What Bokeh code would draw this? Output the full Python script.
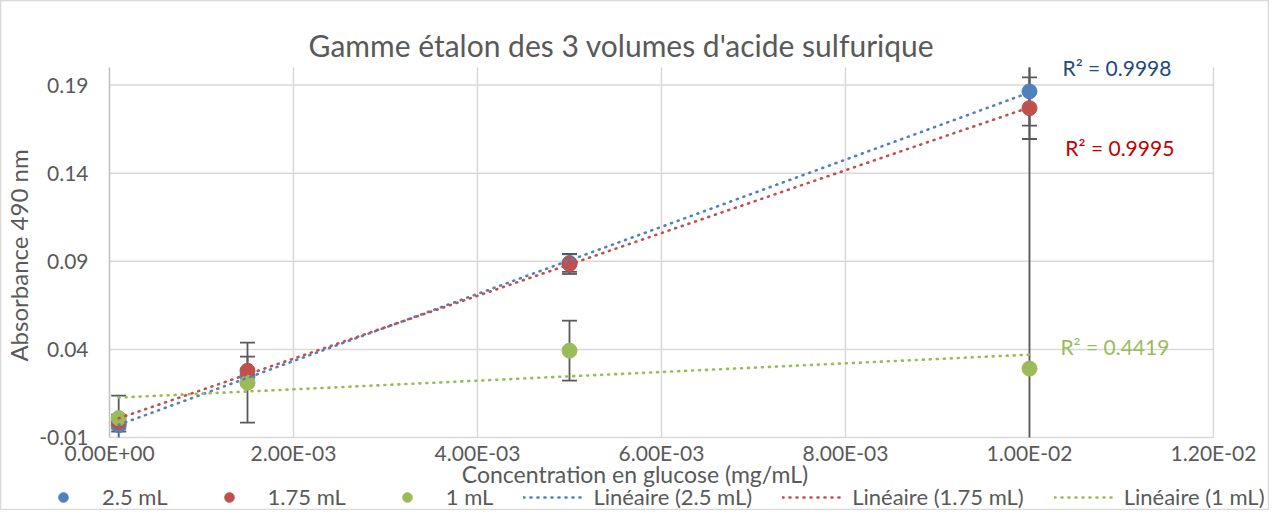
import numpy as np
from bokeh.plotting import figure
from bokeh.models import Legend, LegendItem, Label, FixedTicker, Range1d
from bokeh.embed import file_html
from bokeh.resources import INLINE

# ---------------- data ----------------
concentration = [0.0001, 0.0015, 0.005, 0.01]
abs_25 = [-0.003, 0.025, 0.089, 0.1864]
abs_175 = [-0.001, 0.0279, 0.0885, 0.1769]
abs_1 = [0.001, 0.0211, 0.0393, 0.0291]
err_25 = [0.0036, 0.004, 0.005, 0.0194]
err_175 = [0.004, 0.008, 0.0057, 0.0175]
err_1 = [0.0128, 0.0227, 0.017, 0.176]
series_names = ["2.5 mL", "1.75 mL", "1 mL"]
trend_names = ["Linéaire (2.5 mL)", "Linéaire (1.75 mL)", "Linéaire (1 mL)"]
r2_texts = ["R² = 0.9998", "R² = 0.9995", "R² = 0.4419"]
x_ticks = [0.0, 0.002, 0.004, 0.006, 0.008, 0.01, 0.012]
x_tick_labels = ["0.00E+00", "2.00E-03", "4.00E-03", "6.00E-03", "8.00E-03", "1.00E-02", "1.20E-02"]
y_ticks = [-0.01, 0.04, 0.09, 0.14, 0.19]
y_tick_labels = ["-0.01", "0.04", "0.09", "0.14", "0.19"]
title_text = "Gamme étalon des 3 volumes d'acide sulfurique"
x_label = "Concentration en glucose (mg/mL)"
y_label = "Absorbance 490 nm"

colors = ["#4F81BD", "#C0504D", "#9BBB59"]
r2_colors = ["#1F497D", "#C00000", "#9BBB59"]
FONT = "Lato"
GRAY = "#595959"
GRID = "#D9D9D9"

# plot-area value ranges
Y_MIN, Y_MAX = -0.01, 0.20
X_MIN, X_MAX = 0.0, 0.012
# the frame covers the whole canvas so that title, labels and legend are not clipped
X_VIEW = (-0.0011848, 0.012609)
Y_VIEW = (-0.05143, 0.2380)

p = figure(width=1269, height=510, output_backend="svg", toolbar_location=None,
           x_range=Range1d(*X_VIEW), y_range=Range1d(*Y_VIEW),
           min_border_left=0, min_border_right=0, min_border_top=0, min_border_bottom=0)
p.outline_line_color = GRID
p.outline_line_width = 1.5
p.background_fill_color = "white"
p.border_fill_color = "white"

for ax in (p.xaxis[0], p.yaxis[0]):
    ax.major_tick_line_color = None
    ax.minor_tick_line_color = None
    ax.major_tick_out = 0
    ax.major_tick_in = 0
    ax.minor_tick_out = 0
    ax.minor_tick_in = 0
    ax.axis_line_color = None
    ax.major_label_text_font = FONT
    ax.major_label_text_font_size = "21px"
    ax.major_label_text_color = GRAY
    ax.axis_label_text_font = FONT
    ax.axis_label_text_font_style = "normal"
    ax.axis_label_text_color = GRAY

p.xaxis.ticker = FixedTicker(ticks=x_ticks)
p.xaxis.major_label_overrides = dict(zip(x_ticks, x_tick_labels))
p.yaxis.ticker = FixedTicker(ticks=y_ticks)
p.yaxis.major_label_overrides = dict(zip(y_ticks, y_tick_labels))
p.xaxis.axis_label = x_label
p.yaxis.axis_label = y_label
p.xaxis.axis_label_text_font_size = "23px"
p.yaxis.axis_label_text_font_size = "24px"
p.xaxis.fixed_location = Y_MIN
p.yaxis.fixed_location = X_MIN
p.xaxis.major_label_standoff = 3
p.xaxis.axis_label_standoff = -9
p.yaxis.major_label_standoff = 21
p.yaxis.axis_label_standoff = 3

p.xgrid.grid_line_color = None
p.ygrid.grid_line_color = None

# grid lines and axis lines limited to the plot area
grid_x = [t for t in x_ticks if t > X_MIN]
p.segment(x0=grid_x, y0=[Y_MIN] * len(grid_x), x1=grid_x, y1=[Y_MAX] * len(grid_x),
          line_color=GRID, line_width=1.5)
grid_y = [t for t in y_ticks if t > Y_MIN]
p.segment(x0=[X_MIN] * len(grid_y), y0=grid_y, x1=[X_MAX] * len(grid_y), y1=grid_y,
          line_color=GRID, line_width=1.5)
p.segment(x0=[X_MIN], y0=[Y_MIN], x1=[X_MAX], y1=[Y_MIN], line_color=GRID, line_width=1.5)
p.segment(x0=[X_MIN], y0=[Y_MIN], x1=[X_MIN], y1=[Y_MAX], line_color="#BFBFBF", line_width=1.5)

values = [abs_25, abs_175, abs_1]
errors = [err_25, err_175, err_1]

# error bars (below markers), clipped to the plot area like in the spreadsheet
for vals, errs in zip(values, errors):
    up = [v + e for v, e in zip(vals, errs)]
    lo = [v - e for v, e in zip(vals, errs)]
    p.segment(x0=concentration, y0=[max(l, Y_MIN) for l in lo],
              x1=concentration, y1=[min(u, Y_MAX) for u in up],
              line_color=GRAY, line_width=1.8)
    cx = [x for x, u in zip(concentration, up) if u <= Y_MAX] + \
         [x for x, l in zip(concentration, lo) if l >= Y_MIN]
    cy = [u for u in up if u <= Y_MAX] + [l for l in lo if l >= Y_MIN]
    p.scatter(x=cx, y=cy, marker="dash", size=15, line_color=GRAY, line_width=1.8)

markers = []
for vals, c in zip(values, colors):
    r = p.scatter(x=concentration, y=vals, size=15, fill_color=c, line_color=c)
    markers.append(r)

trends = []
xs = np.array(concentration)
xfit = [xs.min(), xs.max()]
for vals, c in zip(values, colors):
    slope, icpt = np.polyfit(xs, np.array(vals), 1)
    yfit = [slope * xv + icpt for xv in xfit]
    r = p.line(x=xfit, y=yfit, line_color=c, line_width=2.6, line_dash="1 6", line_cap="round")
    trends.append(r)

# title
p.add_layout(Label(x=0.005565, y=0.213, text=title_text, text_color=GRAY, text_font=FONT,
                   text_font_size="30px", text_align="center", text_baseline="middle"))

# R² labels
r2_pos = [(0.010359, 0.2000), (0.010390, 0.1546), (0.010336, 0.0416)]
for t, c, (lx, ly) in zip(r2_texts, r2_colors, r2_pos):
    p.add_layout(Label(x=lx, y=ly, text=t, text_color=c, text_font=FONT,
                       text_font_size="21px", text_baseline="middle"))

items = [LegendItem(label=n, renderers=[r]) for n, r in zip(series_names, markers)]
items += [LegendItem(label=n, renderers=[r]) for n, r in zip(trend_names, trends)]
legend = Legend(items=items, orientation="horizontal", location=(32, 0),
                label_text_font=FONT, label_text_font_size="22px", label_text_color=GRAY,
                glyph_width=62, glyph_height=24, label_standoff=8, spacing=30,
                padding=0, margin=0, border_line_color=None, background_fill_alpha=0)
p.add_layout(legend)

open("out.html", "w").write(file_html(p, INLINE))
